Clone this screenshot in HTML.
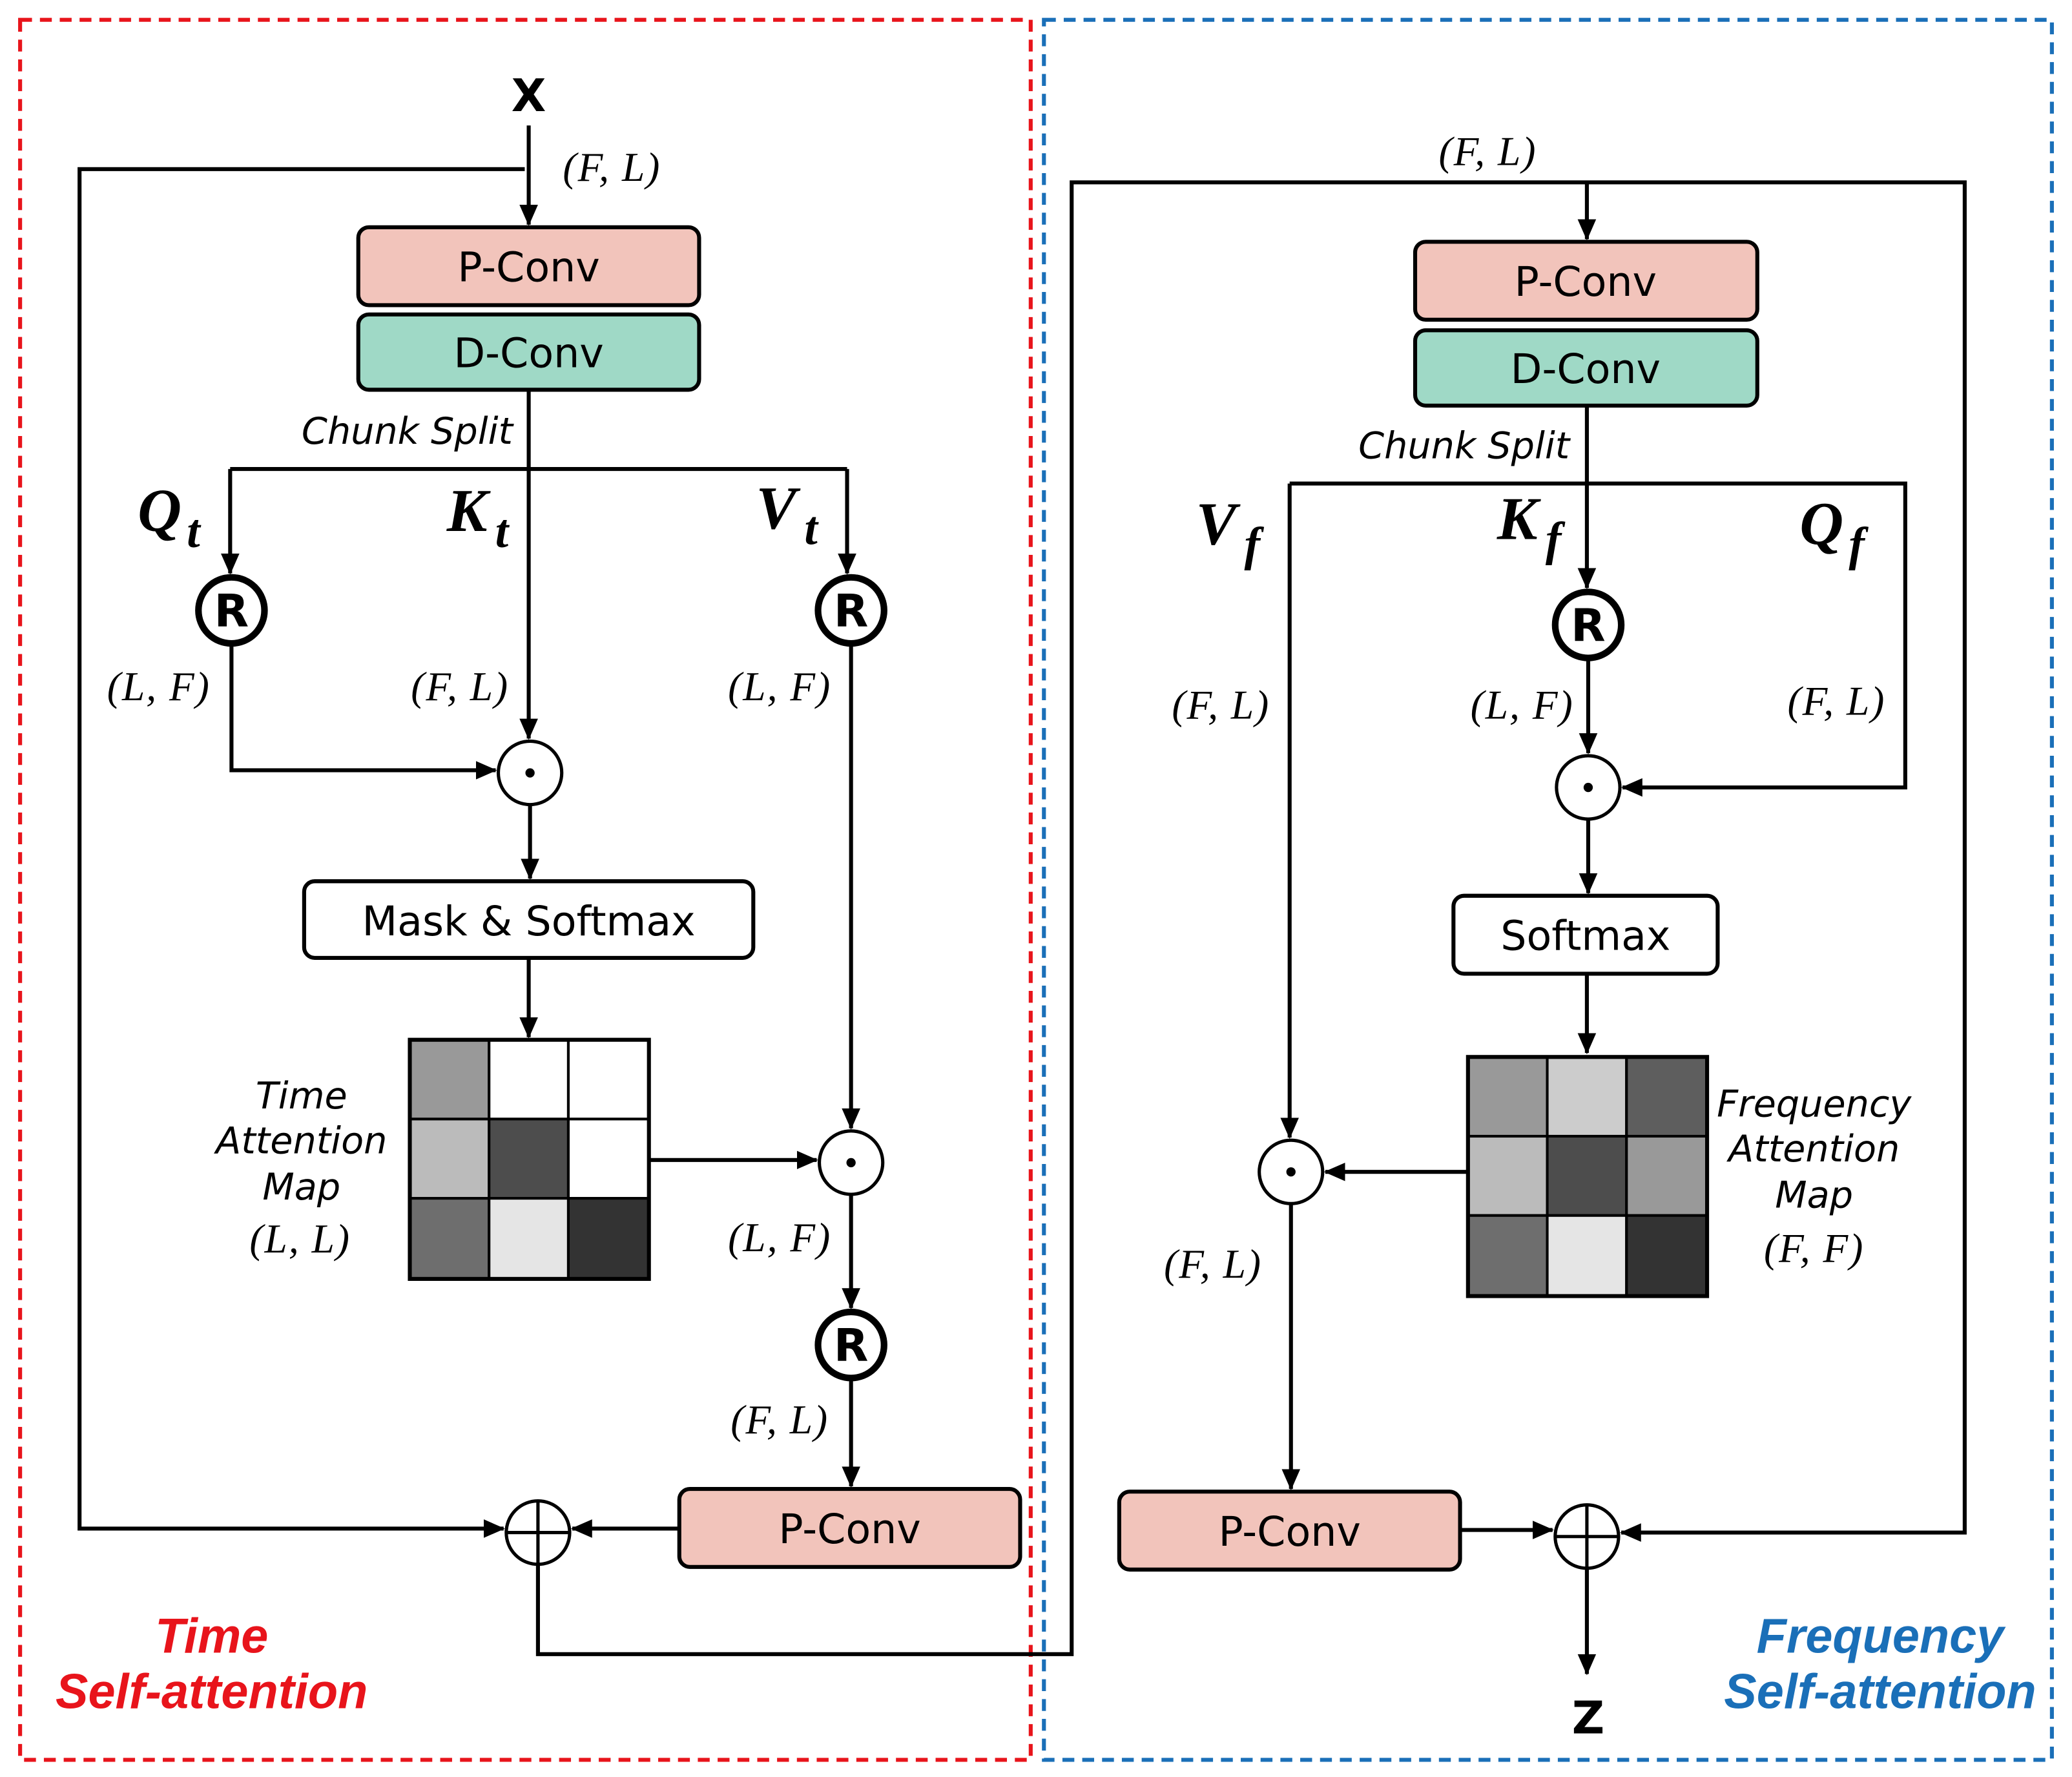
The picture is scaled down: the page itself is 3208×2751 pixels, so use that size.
<!DOCTYPE html>
<html><head><meta charset="utf-8"><style>
html,body{margin:0;padding:0;background:#fff}
svg{display:block}
.s{font-family:"DejaVu Sans","Liberation Sans",sans-serif}
.m{font-family:"Liberation Serif",serif;font-style:italic;font-size:31px;letter-spacing:1px}
.q{font-family:"Liberation Serif",serif;font-style:italic;font-weight:bold}
</style></head><body>
<svg width="3208" height="2751" viewBox="0 0 1568 1345" xmlns="http://www.w3.org/2000/svg">
<defs>
<marker id="ar" markerWidth="16" markerHeight="16" refX="15" refY="8" orient="auto" markerUnits="userSpaceOnUse" viewBox="0 0 16 16">
<path d="M0,1 L16,8 L0,15 z" fill="#000"/></marker>
</defs>
<rect x="0" y="0" width="1568" height="1345" fill="#fff"/>
<rect x="15" y="15" width="765" height="1317" fill="none" stroke="#e8141b" stroke-width="3" stroke-dasharray="9,6"/>
<rect x="790" y="15" width="763" height="1317" fill="none" stroke="#1a6fb8" stroke-width="3" stroke-dasharray="9,6"/>

<g stroke="#000" stroke-width="3" fill="none">
<path d="M400,95 V170" marker-end="url(#ar)"/>
<path d="M397,128 H60 V1157 H381" marker-end="url(#ar)"/>
<path d="M400,295 V355"/>
<path d="M174,355 H641"/>
<path d="M174,355 V434" marker-end="url(#ar)"/>
<path d="M641,355 V434" marker-end="url(#ar)"/>
<path d="M400,355 V559" marker-end="url(#ar)"/>
<path d="M175,488 V583 H375" marker-end="url(#ar)"/>
<path d="M401,609 V665" marker-end="url(#ar)"/>
<path d="M400,725 V785" marker-end="url(#ar)"/>
<path d="M491,878 H618" marker-end="url(#ar)"/>
<path d="M644,488 V854" marker-end="url(#ar)"/>
<path d="M644,904 V990" marker-end="url(#ar)"/>
<path d="M644,1044 V1125" marker-end="url(#ar)"/>
<path d="M514,1157 H433" marker-end="url(#ar)"/>
<path d="M407,1184 V1252 H811 V138 H1487 V1160 H1227" marker-end="url(#ar)"/>
<path d="M1201,138 V181" marker-end="url(#ar)"/>
<path d="M1201,307 V445" marker-end="url(#ar)"/>
<path d="M976,366 H1442 V596 H1228" marker-end="url(#ar)"/>
<path d="M976,366 V861" marker-end="url(#ar)"/>
<path d="M1202,499 V570" marker-end="url(#ar)"/>
<path d="M1202,620 V676" marker-end="url(#ar)"/>
<path d="M1201,737 V797" marker-end="url(#ar)"/>
<path d="M1111,887 H1003" marker-end="url(#ar)"/>
<path d="M977,911 V1127" marker-end="url(#ar)"/>
<path d="M1105,1158 H1175" marker-end="url(#ar)"/>
<path d="M1201,1187 V1267" marker-end="url(#ar)"/>
</g>

<g stroke="#000" stroke-width="3">
<rect x="271" y="172" width="258" height="59" rx="8" fill="#f2c4bb"/>
<rect x="271" y="238" width="258" height="57" rx="8" fill="#9fd9c6"/>
<rect x="230" y="667" width="340" height="58" rx="8" fill="#fff"/>
<rect x="514" y="1127" width="258" height="59" rx="8" fill="#f2c4bb"/>
<rect x="1071" y="183" width="259" height="59" rx="8" fill="#f2c4bb"/>
<rect x="1071" y="250" width="259" height="57" rx="8" fill="#9fd9c6"/>
<rect x="1100" y="678" width="200" height="59" rx="8" fill="#fff"/>
<rect x="847" y="1129" width="258" height="59" rx="8" fill="#f2c4bb"/>
</g>
<g class="s" font-size="31" text-anchor="middle">
<text x="400" y="213">P-Conv</text>
<text x="400" y="278">D-Conv</text>
<text x="400" y="708">Mask &amp; Softmax</text>
<text x="643" y="1168">P-Conv</text>
<text x="1200" y="224">P-Conv</text>
<text x="1200" y="290">D-Conv</text>
<text x="1200" y="719">Softmax</text>
<text x="976" y="1170">P-Conv</text>
</g>

<g stroke="#000" stroke-width="2">
<rect x="310" y="787" width="60" height="60" fill="#999"/>
<rect x="370" y="787" width="60" height="60" fill="#fff"/>
<rect x="430" y="787" width="61" height="60" fill="#fff"/>
<rect x="310" y="847" width="60" height="60" fill="#bbb"/>
<rect x="370" y="847" width="60" height="60" fill="#4d4d4d"/>
<rect x="430" y="847" width="61" height="60" fill="#fff"/>
<rect x="310" y="907" width="60" height="61" fill="#6e6e6e"/>
<rect x="370" y="907" width="60" height="61" fill="#e5e5e5"/>
<rect x="430" y="907" width="61" height="61" fill="#333"/>
<rect x="1111" y="800" width="60" height="60" fill="#999"/>
<rect x="1171" y="800" width="60" height="60" fill="#ccc"/>
<rect x="1231" y="800" width="61" height="60" fill="#5e5e5e"/>
<rect x="1111" y="860" width="60" height="60" fill="#bbb"/>
<rect x="1171" y="860" width="60" height="60" fill="#4d4d4d"/>
<rect x="1231" y="860" width="61" height="60" fill="#999"/>
<rect x="1111" y="920" width="60" height="61" fill="#6e6e6e"/>
<rect x="1171" y="920" width="60" height="61" fill="#e5e5e5"/>
<rect x="1231" y="920" width="61" height="61" fill="#333"/>
</g>
<rect x="310" y="787" width="181" height="181" fill="none" stroke="#000" stroke-width="3"/>
<rect x="1111" y="800" width="181" height="181" fill="none" stroke="#000" stroke-width="3"/>

<g stroke="#000" stroke-width="5" fill="#fff">
<circle cx="175" cy="462" r="25"/>
<circle cx="644" cy="462" r="25"/>
<circle cx="644" cy="1018" r="25"/>
<circle cx="1202" cy="473" r="25"/>
</g>
<g font-family="DejaVu Sans,sans-serif" font-weight="bold" font-size="34" text-anchor="middle">
<text x="175" y="474">R</text>
<text x="644" y="474">R</text>
<text x="644" y="1030">R</text>
<text x="1202" y="485">R</text>
</g>
<g stroke="#000" stroke-width="2.5" fill="#fff">
<circle cx="401" cy="585" r="24"/>
<circle cx="644" cy="880" r="24"/>
<circle cx="1202" cy="596" r="24"/>
<circle cx="977" cy="887" r="24"/>
</g>
<g fill="#000">
<circle cx="401" cy="585" r="3.5"/>
<circle cx="644" cy="880" r="3.5"/>
<circle cx="1202" cy="596" r="3.5"/>
<circle cx="977" cy="887" r="3.5"/>
</g>
<g stroke="#000" stroke-width="2.5" fill="#fff">
<circle cx="407" cy="1160" r="24"/>
<circle cx="1201" cy="1163" r="24"/>
<path d="M383,1160 H431 M407,1136 V1184 M1177,1163 H1225 M1201,1139 V1187" fill="none"/>
</g>

<g class="s" font-weight="bold" font-size="34" text-anchor="middle">
<text x="400" y="84">X</text>
<text x="1202" y="1312">Z</text>
</g>
<g class="m" text-anchor="middle">
<text x="463" y="137">(F, L)</text>
<text x="1126" y="125">(F, L)</text>
<text x="120" y="530">(L, F)</text>
<text x="348" y="530">(F, L)</text>
<text x="590" y="530">(L, F)</text>
<text x="590" y="947">(L, F)</text>
<text x="590" y="1085">(F, L)</text>
<text x="227" y="948">(L, L)</text>
<text x="924" y="544">(F, L)</text>
<text x="1152" y="544">(L, F)</text>
<text x="1390" y="541">(F, L)</text>
<text x="918" y="967">(F, L)</text>
<text x="1373" y="955">(F, F)</text>
</g>
<g class="s" font-style="italic" font-size="28" text-anchor="middle">
<text x="308" y="336">Chunk Split</text>
<text x="1108" y="347">Chunk Split</text>
<text x="228" y="839">Time</text>
<text x="228" y="873">Attention</text>
<text x="228" y="908">Map</text>
<text x="1373" y="845">Frequency</text>
<text x="1373" y="879">Attention</text>
<text x="1373" y="914">Map</text>
</g>
<g class="q" font-size="46">
<text x="104" y="402">Q<tspan font-size="36" dx="4" dy="12">t</tspan></text>
<text x="338" y="402">K<tspan font-size="36" dx="6" dy="12">t</tspan></text>
<text x="572" y="400">V<tspan font-size="36" dx="6" dy="12">t</tspan></text>
<text x="905" y="412">V<tspan font-size="36" dx="6" dy="12">f</tspan></text>
<text x="1133" y="408">K<tspan font-size="36" dx="6" dy="12">f</tspan></text>
<text x="1362" y="412">Q<tspan font-size="36" dx="4" dy="12">f</tspan></text>
</g>
<g font-family="'Liberation Sans',sans-serif" font-weight="bold" font-style="italic" font-size="37" text-anchor="middle">
<text x="160" y="1251" fill="#e8141b">Time</text>
<text x="160" y="1293" fill="#e8141b">Self-attention</text>
<text x="1423" y="1251" fill="#1a6fb8">Frequency</text>
<text x="1423" y="1293" fill="#1a6fb8">Self-attention</text>
</g>
</svg>
</body></html>
